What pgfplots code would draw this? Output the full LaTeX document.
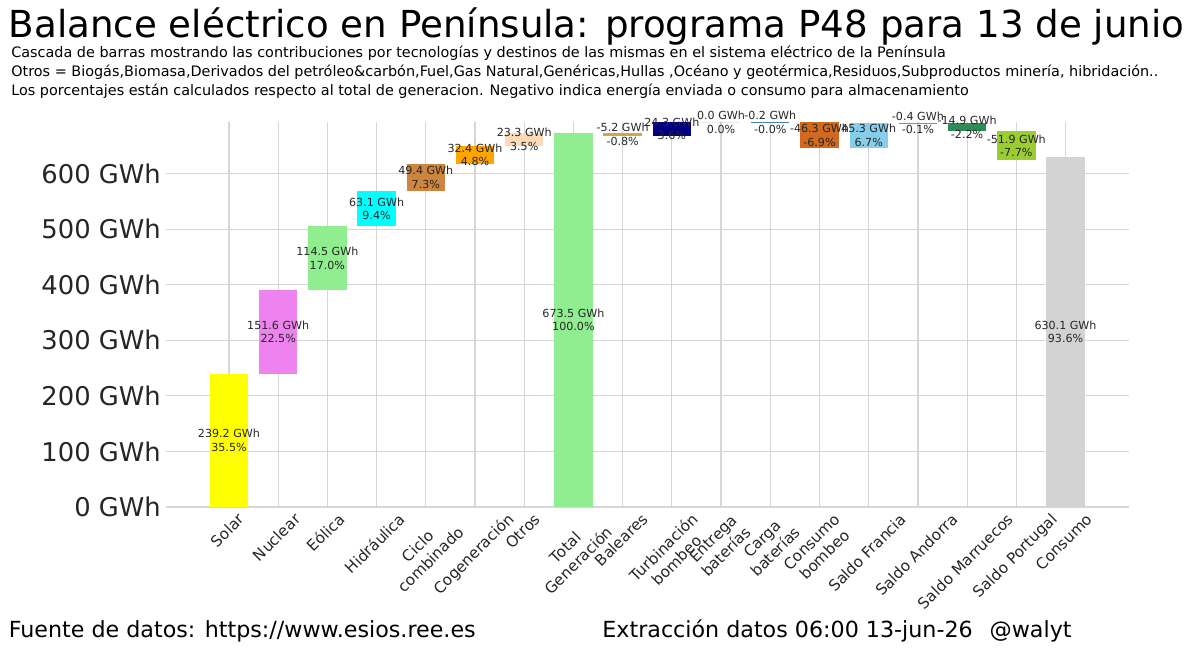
\documentclass[border=0pt]{standalone}
\usepackage{fontspec}
\setmainfont{DejaVu Sans}
\usepackage{graphicx}
\usepackage{pgfplots}
\pgfplotsset{compat=1.18}

\definecolor{cSolar}{HTML}{FFFF00}
\definecolor{cNuclear}{HTML}{EE82EE}
\definecolor{cEolica}{HTML}{90EE90}
\definecolor{cHidra}{HTML}{00FFFF}
\definecolor{cCiclo}{HTML}{CD853F}
\definecolor{cCogen}{HTML}{FFA500}
\definecolor{cOtros}{HTML}{FFDAB9}
\definecolor{cTotal}{HTML}{90EE90}
\definecolor{cBaleares}{HTML}{D4A450}
\definecolor{cTurb}{HTML}{000080}
\definecolor{cEntrega}{HTML}{8B4513}
\definecolor{cCarga}{HTML}{4682B4}
\definecolor{cBombeo}{HTML}{D2691E}
\definecolor{cFrancia}{HTML}{87CEEB}
\definecolor{cAndorra}{HTML}{FF6347}
\definecolor{cMarr}{HTML}{2E8B57}
\definecolor{cPort}{HTML}{9ACD32}
\definecolor{cConsumo}{HTML}{D3D3D3}
\definecolor{cGrid}{HTML}{D6D6D6}
\definecolor{cText}{HTML}{262626}

\newcommand\fTitle{\fontsize{18.6pt}{22pt}\selectfont}
\newcommand\fSub{\fontsize{7.2pt}{8.6pt}\selectfont}
\newcommand\fTick{\fontsize{7.64pt}{9.17pt}\selectfont}
\newcommand\fY{\fontsize{12.9pt}{15.5pt}\selectfont}
\newcommand\fLbl{\fontsize{5.56pt}{6.8pt}\selectfont}
\newcommand\fFoot{\fontsize{11.1pt}{13.3pt}\selectfont}
\newcommand\rl[1]{\rotatebox{45}{\begin{tabular}{@{}c@{}}#1\end{tabular}}}

\begin{document}
\begin{tikzpicture}
\path[use as bounding box] (0,0) rectangle (600pt,327.5pt);
\node[anchor=base west, inner sep=0pt, font=\fTitle] at (4.2pt,308.85pt) {Balance eléctrico en Península: programa P48 para 13 de junio};
\node[anchor=base west, inner sep=0pt, font=\fSub] at (5.45pt,298.85pt) {Cascada de barras mostrando las contribuciones por tecnologías y destinos de las mismas en el sistema eléctrico de la Península};
\node[anchor=base west, inner sep=0pt, font=\fSub] at (5.45pt,289.15pt) {Otros = Biogás,Biomasa,Derivados del petróleo\&carbón,Fuel,Gas Natural,Genéricas,Hullas ,Océano y geotérmica,Residuos,Subproductos minería, hibridación..};
\node[anchor=base west, inner sep=0pt, font=\fSub] at (5.45pt,279.85pt) {Los porcentajes están calculados respecto al total de generacion. Negativo indica energía enviada o consumo para almacenamiento};
\node[anchor=base west, inner sep=0pt, font=\fFoot] at (4.2pt,8.65pt) {Fuente de datos: https://www.esios.ree.es};
\node[anchor=base west, inner sep=0pt, font=\fFoot] at (301pt,8.65pt) {Extracción datos 06:00 13-jun-26};
\node[anchor=base east, inner sep=0pt, font=\fFoot] at (536pt,8.65pt) {@walyt};

\begin{axis}[
  at={(83pt,74pt)}, anchor=south west,
  scale only axis, width=481.5pt, height=192.5pt,
  xmin=-1.28, xmax=18.29, ymin=0, ymax=693,
  clip=false,
  axis line style={draw=none},
  major tick length=0pt,
  xmajorgrids, ymajorgrids,
  grid style={color=cGrid, line width=0.6pt},
  ytick={0,100,200,300,400,500,600},
  yticklabels={0 GWh,100 GWh,200 GWh,300 GWh,400 GWh,500 GWh,600 GWh},
  y tick label style={font=\fY, inner sep=0pt, xshift=-2.4pt, text=cText},
  xtick={0,1,2,3,4,5,6,7,8,9,10,11,12,13,14,15,16,17},
  xticklabels={{\rl{Solar}},{\rl{Nuclear}},{\rl{Eólica}},{\rl{Hidráulica}},{\rl{Ciclo\\combinado}},{\rl{Cogeneración}},{\rl{Otros}},{\rl{Total\\Generación}},{\rl{Baleares}},{\rl{Turbinación\\bombeo}},{\rl{Entrega\\baterías}},{\rl{Carga\\baterías}},{\rl{Consumo\\bombeo}},{\rl{Saldo Francia}},{\rl{Saldo Andorra}},{\rl{Saldo Marruecos}},{\rl{Saldo Portugal}},{\rl{Consumo}}},
  x tick label style={font=\fTick, inner sep=0pt, anchor=north, yshift=-2pt, text=cText},
]
% waterfall bars: (left,low) (right,low) (right,high) (left,high)
\addplot[fill=cSolar, draw=none] coordinates {(-0.39,0) (0.39,0) (0.39,239.2) (-0.39,239.2)} --cycle;
\addplot[fill=cNuclear, draw=none] coordinates {(0.61,239.2) (1.39,239.2) (1.39,390.8) (0.61,390.8)} --cycle;
\addplot[fill=cEolica, draw=none] coordinates {(1.61,390.8) (2.39,390.8) (2.39,505.3) (1.61,505.3)} --cycle;
\addplot[fill=cHidra, draw=none] coordinates {(2.61,505.3) (3.39,505.3) (3.39,568.4) (2.61,568.4)} --cycle;
\addplot[fill=cCiclo, draw=none] coordinates {(3.61,568.4) (4.39,568.4) (4.39,617.8) (3.61,617.8)} --cycle;
\addplot[fill=cCogen, draw=none] coordinates {(4.61,617.8) (5.39,617.8) (5.39,650.2) (4.61,650.2)} --cycle;
\addplot[fill=cOtros, draw=none] coordinates {(5.61,650.2) (6.39,650.2) (6.39,673.5) (5.61,673.5)} --cycle;
\addplot[fill=cTotal, draw=none] coordinates {(6.61,0) (7.39,0) (7.39,673.5) (6.61,673.5)} --cycle;
\addplot[fill=cBaleares, draw=none] coordinates {(7.61,668.3) (8.39,668.3) (8.39,673.5) (7.61,673.5)} --cycle;
\addplot[fill=cTurb, draw=none] coordinates {(8.61,668.3) (9.39,668.3) (9.39,692.6) (8.61,692.6)} --cycle;
\addplot[fill=cEntrega, draw=none] coordinates {(9.61,692.6) (10.39,692.6) (10.39,692.6) (9.61,692.6)} --cycle;
\addplot[fill=cCarga, draw=none] coordinates {(10.61,692.4) (11.39,692.4) (11.39,692.6) (10.61,692.6)} --cycle;
\addplot[fill=cBombeo, draw=none] coordinates {(11.61,646.1) (12.39,646.1) (12.39,692.4) (11.61,692.4)} --cycle;
\addplot[fill=cFrancia, draw=none] coordinates {(12.61,646.1) (13.39,646.1) (13.39,691.4) (12.61,691.4)} --cycle;
\addplot[fill=cAndorra, draw=none] coordinates {(13.61,691.0) (14.39,691.0) (14.39,691.4) (13.61,691.4)} --cycle;
\addplot[fill=cMarr, draw=none] coordinates {(14.61,676.1) (15.39,676.1) (15.39,691.0) (14.61,691.0)} --cycle;
\addplot[fill=cPort, draw=none] coordinates {(15.61,624.2) (16.39,624.2) (16.39,676.1) (15.61,676.1)} --cycle;
\addplot[fill=cConsumo, draw=none] coordinates {(16.61,0) (17.39,0) (17.39,630.1) (16.61,630.1)} --cycle;
% value labels at bar middles
\addplot[only marks, mark=*, mark size=0pt, mark options={draw=none, fill=none},
  point meta=explicit symbolic, nodes near coords,
  nodes near coords style={anchor=center, align=center, font=\fLbl, text=cText, inner sep=0pt}]
coordinates {
(0,119.6) [239.2 GWh\\35.5\%]
(1,315.0) [151.6 GWh\\22.5\%]
(2,448.05) [114.5 GWh\\17.0\%]
(3,536.85) [63.1 GWh\\9.4\%]
(4,593.1) [49.4 GWh\\7.3\%]
(5,634.0) [32.4 GWh\\4.8\%]
(6,661.85) [23.3 GWh\\3.5\%]
(7,336.75) [673.5 GWh\\100.0\%]
(8,670.9) [-5.2 GWh\\-0.8\%]
(9,680.45) [24.3 GWh\\3.6\%]
(10,692.6) [0.0 GWh\\0.0\%]
(11,692.5) [-0.2 GWh\\-0.0\%]
(12,669.25) [-46.3 GWh\\-6.9\%]
(13,668.75) [45.3 GWh\\6.7\%]
(14,691.2) [-0.4 GWh\\-0.1\%]
(15,683.55) [-14.9 GWh\\-2.2\%]
(16,650.15) [-51.9 GWh\\-7.7\%]
(17,315.05) [630.1 GWh\\93.6\%]
};
\end{axis}
\end{tikzpicture}
\end{document}
